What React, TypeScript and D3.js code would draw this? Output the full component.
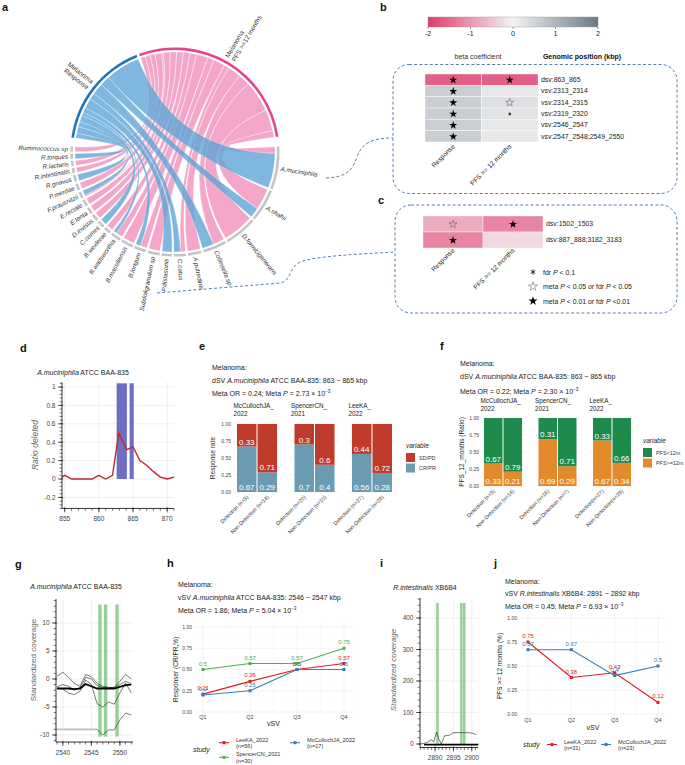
import React from 'react';
import * as d3 from 'd3';

const FONT = "'Liberation Sans', Arial, Helvetica, sans-serif";

/* ---------------- a: chord data ---------------- */
const chordSpecies = ['A.muciniphila', 'A.shahii', 'D.formicigenerans', 'Collinsella sp', 'A.putredinis', 'C.catus', 'P.distasonis', 'Subdoligranulum sp', 'B.longum', 'B.massiliensis', 'B.wadsworthia', 'B.wexlerae', 'C.comes', 'D.invisus', 'E.lenta', 'E.rectale', 'F.prausnitzii', 'P.merdae', 'R.gnavus', 'R.intestinalis', 'R.lactaris', 'R.torques', 'Ruminococcus sp'];
const chordResponse = [21, 6, 0, 7, 0, 4, 6, 0, 3, 0, 2, 0, 4, 0, 0, 0, 3, 0, 4, 0, 0, 3, 0];
const chordPFS = [4, 13, 19, 7, 8, 3, 0, 7, 4, 7, 4, 4, 0, 4, 4, 4, 1, 4, 0, 3, 3, 0, 3];
const chordGroupLines = [['Melanoma', 'Response'], ['Melanoma', 'PFS >=12 months']];

/* ---------------- b / c: heatmaps ---------------- */
const betaTicks = [-2, -1, 0, 1, 2];
const heatColumns = ['Response', 'PFS >= 12 months'];
const bRows = ['dsv:863_865', 'vsv:2313_2314', 'vsv:2314_2315', 'vsv:2319_2320', 'vsv:2546_2547', 'vsv:2547_2548;2549_2550'];
const bResponse = [-1.6, 0.6, 0.6, 0.6, 0.6, 0.6];
const bPFS = [-1.6, 0.2, 0.32, 0.25, 0.2, 0.2];
const bResponseSig = ['strong', 'strong', 'strong', 'strong', 'strong', 'strong'];
const bPFSSig = ['strong', '', 'open', 'fdr', '', ''];
const cRows = ['dsv:1502_1503', 'dsv:887_888;3182_3183'];
const cResponse = [-0.78, -1.2];
const cPFS = [-1.2, -0.28];
const cResponseSig = ['open', 'strong'];
const cPFSSig = ['strong', ''];
const sigKinds = ['fdr', 'open', 'strong'];
const sigLabels = [
  [['fdr ', 0], ['P', 1], [' < 0.1', 0]],
  [['meta ', 0], ['P', 1], [' < 0.05 or fdr ', 0], ['P', 1], [' < 0.05', 0]],
  [['meta ', 0], ['P', 1], [' < 0.01 or fdr ', 0], ['P', 1], [' <0.01', 0]],
];

/* ---------------- d ---------------- */
const dPos = [854.6, 855, 856, 857, 858, 859, 860, 861, 862, 862.9, 864.1, 865, 866, 867, 868, 869, 870, 871];
const dRatio = [0.02, 0.04, 0.0, 0.0, 0.0, 0.0, 0.04, 0.0, 0.04, 0.5, 0.32, 0.35, 0.2, 0.15, 0.08, 0.02, 0.0, 0.02];
const dBars = [[862.6, 864.1], [864.5, 865.1]];
const dBarTop = 1.04;

/* ---------------- e ---------------- */
const eStudyNames = ['McCullochJA_', 'SpencerCN_', 'LeeKA_'];
const eStudyYears = ['2022', '2021', '2022'];
const eXLabels = ['Detection (n=3)', 'Non-Detection (n=14)', 'Detection (n=20)', 'Non-Detection (n=10)', 'Detection (n=27)', 'Non-Detection (n=29)'];
const eCRPR = [0.67, 0.29, 0.7, 0.4, 0.56, 0.28];
const eSDPD = [0.33, 0.71, 0.3, 0.6, 0.44, 0.72];
const eLegend = ['SD/PD', 'CR/PR'];

/* ---------------- f ---------------- */
const fXLabels = ['Detection (n=3)', 'Non-Detection (n=14)', 'Detection (n=16)', 'Non-Detection (n=7)', 'Detection(n=27)', 'Non-Detection(n=29)'];
const fGE12 = [0.33, 0.21, 0.69, 0.29, 0.67, 0.34];
const fLT12 = [0.67, 0.79, 0.31, 0.71, 0.33, 0.66];
const fLegend = ['PFS<12m', 'PFS>=12m'];

/* ---------------- g ---------------- */
const gPos = [2539, 2540, 2541, 2542, 2543, 2544, 2545, 2546, 2547, 2548, 2549, 2550, 2551, 2552];
const gLine1 = [0.5, 1.2, 0.3, -0.8, -1.3, 0.8, 0.4, -0.8, -1.3, -1.5, -1.5, -0.4, 0.8, 0.0];
const gLine2 = [-1.4, -1.0, -1.3, -2.0, -1.6, 0.3, 0.0, -1.2, -1.5, -1.6, -1.5, -1.0, -0.4, -0.9];
const gLine3 = [-1.6, -1.8, -2.5, -2.8, -2.2, -0.2, -1.0, -4.4, -5.0, -4.1, -4.5, -2.5, -0.7, -2.5];
const gMean = [-1.7, -1.7, -1.7, -1.8, -1.7, -0.9, -1.3, -1.7, -1.7, -1.7, -1.7, -1.4, -1.1, -1.0];
const gLowPos = [2546, 2547, 2548, 2549, 2550, 2551, 2552];
const gLow = [-9.0, -10.0, -9.1, -9.1, -7.3, -6.1, -6.4];
const gFlatPos = [2538.8, 2546];
const gFlat = [-9, -9];
const gBars = [[2546.2, 2546.8], [2547.2, 2547.8], [2549.2, 2549.8]];
const gBarRange = [-10.3, 13.3];

/* ---------------- h ---------------- */
const qLabels = ['Q1', 'Q2', 'Q3', 'Q4'];
const hStudies = ['LeeKA_2022', 'SpencerCN_2021', 'McCullochJA_2022'];
const hN = ['(n=56)', '(n=30)', '(n=17)'];
const hValues = [[0.21, 0.36, 0.5, 0.57], [0.5, 0.57, 0.57, 0.75], [0.2, 0.25, 0.5, 0.5]];

/* ---------------- i ---------------- */
const iPos = [2886, 2887, 2888, 2889, 2889.6, 2890.4, 2891.1, 2891.7, 2892.6, 2894, 2895, 2896, 2897, 2898, 2899, 2900, 2901.2];
const iLine = [0, 2, 6, 14, 6, 38, 14, 0, 26, 28, 36, 36, 36, 36, 36, 35, 30];
const iMeanPos = [2887, 2901.8];
const iMean = [-2, -2];
const iBars = [[2890.3, 2891.0], [2896.8, 2897.5], [2897.6, 2898.3]];
const iBarRange = [-3, 448];

/* ---------------- j ---------------- */
const jStudies = ['LeeKA_2022', 'McCullochJA_2022'];
const jN = ['(n=31)', '(n=23)'];
const jValues = [[0.75, 0.38, 0.43, 0.12], [0.67, 0.67, 0.4, 0.5]];

/* ---------------- styles ---------------- */
const studyColor: Record<string, string> = { LeeKA_2022: '#E41A1C', SpencerCN_2021: '#4DAF4A', McCullochJA_2022: '#377EB8' };
const heatColor = d3.scaleLinear<string>().domain([-2, 0, 2]).range(['#E03A6C', '#F3F3F3', '#6A7888']);

const PanelLabel = ({ x, y, t }: any) => (
  <text x={x} y={y} fontSize={11} fontWeight="bold" fill="#111">{t}</text>
);

const Rich = ({ parts }: any) => (
  <>{parts.map((p: any, i: number) => <tspan key={i} fontStyle={p[1] ? 'italic' : 'normal'}>{p[0]}</tspan>)}</>
);

function MetaLine({ x, y, or, p, exp, size = 7 }: any) {
  return (
    <text x={x} y={y} fontSize={size} fill="#222">
      {`Meta OR = ${or}; Meta `}<tspan fontStyle="italic">P</tspan>{` = ${p} × 10`}
      <tspan dy={-2.8} fontSize={size * 0.68}>{exp}</tspan>
    </text>
  );
}

function Sym({ kind, x, y, size = 20 }: any) {
  const star = d3.symbol().type(d3.symbolStar).size(size)() as string;
  if (kind === 'strong') return <path d={star} transform={`translate(${x},${y})`} fill="#000" />;
  if (kind === 'open') return <path d={star} transform={`translate(${x},${y})`} fill="none" stroke="#555" strokeWidth={0.5} />;
  if (kind === 'fdr') {
    const t = (d3 as any).symbolAsterisk || d3.symbolCross;
    const ast = d3.symbol().type(t).size(size)() as string;
    return <path d={ast} transform={`translate(${x},${y})`} fill="none" stroke="#000" strokeWidth={0.7} />;
  }
  return null;
}

/* ---------------- Panel a ---------------- */
function PanelA() {
  const cx = 175, cy = 152, R = 100;
  const rad = Math.PI / 180;
  const sumR = d3.sum(chordResponse), sumP = d3.sum(chordPFS), total = sumR + sumP;
  const srcStart = 278, srcEnd = 441.5, srcGap = 1.5;
  const k = (srcEnd - srcStart - srcGap) / total;
  const tgtStart = 87, tgtEnd = 273;
  const n = chordSpecies.length;
  const tgtGap = (tgtEnd - tgtStart - total * k) / (n - 1);
  let a = tgtStart;
  const sectors = chordSpecies.map((name, i) => {
    const s = { name, start: a, mid: a + chordPFS[i] * k, end: a + (chordPFS[i] + chordResponse[i]) * k };
    a = s.end + tgtGap;
    return s;
  });
  const respArc = [srcStart, srcStart + sumR * k];
  const pfsArc = [respArc[1] + srcGap, respArc[1] + srcGap + sumP * k];
  const ribbonsP: any[] = [], ribbonsR: any[] = [];
  let ra = respArc[0], pa = pfsArc[0];
  for (let i = n - 1; i >= 0; i--) {
    if (chordPFS[i] > 0) {
      const w = chordPFS[i] * k;
      ribbonsP.push({ source: { startAngle: pa * rad, endAngle: (pa + w) * rad, radius: R }, target: { startAngle: sectors[i].start * rad, endAngle: sectors[i].mid * rad, radius: R } });
      pa += w;
    }
    if (chordResponse[i] > 0) {
      const w = chordResponse[i] * k;
      ribbonsR.push({ source: { startAngle: ra * rad, endAngle: (ra + w) * rad, radius: R }, target: { startAngle: sectors[i].mid * rad, endAngle: sectors[i].end * rad, radius: R } });
      ra += w;
    }
  }
  const ribbon: any = d3.ribbon();
  const arc: any = d3.arc();
  const track = (s: number, e: number) => arc({ innerRadius: 102, outerRadius: 104.6, startAngle: s * rad, endAngle: e * rad });
  const labelPos = (ang: number, r: number) => [r * Math.sin(ang * rad), -r * Math.cos(ang * rad)];
  const groupArcs = [respArc, pfsArc];
  return (
    <g>
      <PanelLabel x={2} y={11} t="a" />
      <g transform={`translate(${cx},${cy})`}>
        {ribbonsP.map((d, i) => <path key={'p' + i} d={ribbon(d)} fill="#F4A6C8" stroke="#fff" strokeWidth={0.4} />)}
        {ribbonsR.map((d, i) => <path key={'r' + i} d={ribbon(d)} fill="#5FA5D6" fillOpacity={0.8} stroke="#fff" strokeOpacity={0.6} strokeWidth={0.4} />)}
        <path d={track(respArc[0], respArc[1])} fill="#1F77B8" />
        <path d={track(pfsArc[0], pfsArc[1])} fill="#E8428C" />
        {sectors.map((s, i) => <path key={'t' + i} d={track(s.start, s.end)} fill="#C4C4C4" />)}
        {sectors.map((s, i) => {
          const m = (s.start + s.end) / 2;
          const [x, y] = labelPos(m, 107);
          const rot = m < 180 ? m - 90 : m + 90;
          return (
            <text key={'l' + i} transform={`translate(${x},${y}) rotate(${rot})`} textAnchor={m < 180 ? 'start' : 'end'} dy="0.35em" fontSize={6.3} fontStyle="italic" fill="#333">{s.name}</text>
          );
        })}
        {groupArcs.map((g, gi) => {
          const m = ((g[0] + g[1]) / 2) % 360;
          const [x, y] = labelPos(m, 108);
          const rot = m < 180 ? m - 90 : m + 90;
          return (
            <text key={'g' + gi} transform={`translate(${x},${y}) rotate(${rot})`} textAnchor={m < 180 ? 'start' : 'end'} fontSize={6.5} fill="#333">
              <tspan x={0} dy="-0.25em">{chordGroupLines[gi][0]}</tspan>
              <tspan x={0} dy="1.15em">{chordGroupLines[gi][1]}</tspan>
            </text>
          );
        })}
      </g>
      <path d="M326,178 C348,177 352,170 357,157 C362,143 372,138 393,138" fill="none" stroke="#3E72A8" strokeWidth={0.9} strokeDasharray="3,2.2" />
      <path d="M157,293 L280,283 C292,281 288,268 300,262 C315,256 360,254 395,252" fill="none" stroke="#3E72A8" strokeWidth={0.9} strokeDasharray="3,2.2" />
    </g>
  );
}

/* ---------------- Heatmap helper ---------------- */
function Heat({ rows, cols, vals, sigs, x0, x1, y0, y1, labelX, colLabelY }: any) {
  const xb = d3.scaleBand<string>().domain(cols).range([x0, x1]);
  const yb = d3.scaleBand<string>().domain(rows).range([y0, y1]);
  return (
    <g>
      {cols.map((c: string, ci: number) => rows.map((r: string, ri: number) => (
        <g key={c + r}>
          <rect x={xb(c)} y={yb(r)} width={xb.bandwidth()} height={yb.bandwidth()} fill={heatColor(vals[ci][ri])} stroke="#fff" strokeWidth={0.4} />
          <Sym kind={sigs[ci][ri]} x={(xb(c) as number) + xb.bandwidth() / 2} y={(yb(r) as number) + yb.bandwidth() / 2 + 0.3} size={sigs[ci][ri] === 'fdr' ? 6 : 20} />
        </g>
      )))}
      {rows.map((r: string) => (
        <text key={r} x={labelX} y={(yb(r) as number) + yb.bandwidth() / 2 + 2.3} fontSize={6.9} fill="#222">{r}</text>
      ))}
      {cols.map((c: string) => (
        <text key={c} transform={`translate(${(xb(c) as number) + xb.bandwidth() / 2 + 2},${colLabelY}) rotate(-45)`} textAnchor="end" fontSize={6.6} fill="#222">{c}</text>
      ))}
    </g>
  );
}

function PanelB() {
  const cb = d3.scaleLinear().domain([-2, 2]).range([428, 598]);
  return (
    <g>
      <PanelLabel x={380} y={11} t="b" />
      <defs>
        <linearGradient id="betaGrad" x1="0" x2="1" y1="0" y2="0">
          {[-2, -1, 0, 1, 2].map((v) => <stop key={v} offset={(v + 2) / 4} stopColor={heatColor(v)} />)}
        </linearGradient>
      </defs>
      <rect x={cb(-2)} y={17} width={cb(2) - cb(-2)} height={10} fill="url(#betaGrad)" stroke="#999" strokeWidth={0.4} />
      {betaTicks.map((t) => (
        <g key={t}>
          <line x1={cb(t)} x2={cb(t)} y1={27} y2={29} stroke="#333" strokeWidth={0.5} />
          <text x={cb(t)} y={36} textAnchor="middle" fontSize={7} fill="#222">{t}</text>
        </g>
      ))}
      <text x={478} y={59} textAnchor="middle" fontSize={7} fill="#333">beta coefficient</text>
      <text x={582} y={59} textAnchor="middle" fontSize={7} fontWeight="bold" fill="#111">Genomic position (kbp)</text>
      <rect x={393} y={64.5} width={284} height={129} rx={16} ry={16} fill="none" stroke="#3E72A8" strokeWidth={0.9} strokeDasharray="3,2.2" />
      <Heat rows={bRows} cols={heatColumns} vals={[bResponse, bPFS]} sigs={[bResponseSig, bPFSSig]} x0={425} x1={538} y0={74} y1={142} labelX={541} colLabelY={147} />
    </g>
  );
}

function PanelC() {
  return (
    <g>
      <PanelLabel x={378} y={204} t="c" />
      <rect x={395} y={205} width={282} height={108} rx={16} ry={16} fill="none" stroke="#3E72A8" strokeWidth={0.9} strokeDasharray="3,2.2" />
      <Heat rows={cRows} cols={heatColumns} vals={[cResponse, cPFS]} sigs={[cResponseSig, cPFSSig]} x0={423} x1={543} y0={216} y1={248} labelX={546} colLabelY={251} />
      {sigKinds.map((kd, i) => (
        <g key={kd}>
          <Sym kind={kd} x={533} y={272 + i * 14.5} size={kd === 'fdr' ? 22 : 26} />
          <text x={543} y={274.5 + i * 14.5} fontSize={6.9} fill="#222"><Rich parts={sigLabels[i]} /></text>
        </g>
      ))}
    </g>
  );
}

/* ---------------- Bokeh-like frame ---------------- */
function BokehFrame({ x, y, left, right, top, bottom, xMajor, xMinor, yMajor, yMinor, yFmt, children }: any) {
  const fmt = yFmt || ((v: number) => String(v));
  return (
    <g>
      {yMajor.map((v: number) => <line key={'gy' + v} x1={left} x2={right} y1={y(v)} y2={y(v)} stroke="#E4E4E4" strokeWidth={0.6} />)}
      {xMajor.map((v: number) => <line key={'gx' + v} x1={x(v)} x2={x(v)} y1={top} y2={bottom} stroke="#E4E4E4" strokeWidth={0.6} />)}
      {children}
      <line x1={left} x2={left} y1={top} y2={bottom} stroke="#000" strokeWidth={0.8} />
      <line x1={left} x2={right} y1={bottom} y2={bottom} stroke="#000" strokeWidth={0.8} />
      {yMinor.map((v: number, i: number) => <line key={'ym' + i} x1={left - 2.5} x2={left} y1={y(v)} y2={y(v)} stroke="#000" strokeWidth={0.5} />)}
      {yMajor.map((v: number) => <line key={'yM' + v} x1={left - 4} x2={left + 1.2} y1={y(v)} y2={y(v)} stroke="#000" strokeWidth={0.6} />)}
      {yMajor.map((v: number) => <text key={'yl' + v} x={left - 6.5} y={y(v) + 2.3} textAnchor="end" fontSize={6.5} fill="#444">{fmt(v)}</text>)}
      {xMinor.map((v: number, i: number) => <line key={'xm' + i} x1={x(v)} x2={x(v)} y1={bottom} y2={bottom + 2.5} stroke="#000" strokeWidth={0.5} />)}
      {xMajor.map((v: number) => <line key={'xM' + v} x1={x(v)} x2={x(v)} y1={bottom - 1.2} y2={bottom + 4} stroke="#000" strokeWidth={0.6} />)}
      {xMajor.map((v: number) => <text key={'xl' + v} x={x(v)} y={bottom + 12.5} textAnchor="middle" fontSize={6.5} fill="#444">{v}</text>)}
    </g>
  );
}

function PanelD() {
  const x = d3.scaleLinear().domain([854.6, 871]).range([62, 174]);
  const y = d3.scaleLinear().domain([0, 1]).range([479, 387]);
  const line = d3.line<number>().x((_, i) => x(dPos[i])).y((d) => y(d));
  const yMinor = d3.range(-8, 27).map((i) => i * 0.04);
  const xMinor = d3.range(855, 872);
  return (
    <g>
      <PanelLabel x={20} y={352} t="d" />
      <text x={83} y={374.5} textAnchor="middle" fontSize={7} fill="#222"><tspan fontStyle="italic">A.muciniphila</tspan> ATCC BAA-835</text>
      <BokehFrame x={x} y={y} left={62} right={174} top={y(1.05)} bottom={y(-0.32)} xMajor={[855, 860, 865, 870]} xMinor={xMinor} yMajor={[-0.2, 0, 0.2, 0.4, 0.6, 0.8, 1]} yMinor={yMinor}
        yFmt={(v: number) => String(+v.toFixed(1))}>
        {dBars.map((b, i) => <rect key={i} x={x(b[0])} y={y(dBarTop)} width={x(b[1]) - x(b[0])} height={y(0) - y(dBarTop)} fill="#6E6EC2" />)}
        <path d={line(dRatio) as string} fill="none" stroke="#C1272D" strokeWidth={1.4} />
      </BokehFrame>
      <text transform="translate(38,445) rotate(-90)" textAnchor="middle" fontSize={8.5} fontStyle="italic" fill="#666">Ratio deleted</text>
    </g>
  );
}

/* ---------------- stacked bar panels ---------------- */
function StackPanel({ x0, x1, yTop, yBot, lower, upper, lowerColor, upperColor, xLabels, tickX, yTitle, yTitleX, facetY, legend }: any) {
  const y = d3.scaleLinear().domain([0, 1]).range([yBot, yTop]);
  const step = (x1 - x0) / (3 - 0.303);
  const outer = d3.scaleBand<number>().domain([0, 1, 2]).range([x0, x1]).paddingInner(0.303);
  const inner = d3.scaleBand<number>().domain([0, 1]).range([0, outer.bandwidth()]).paddingInner(0.05);
  const grid = [0, 0.25, 0.5, 0.75, 1];
  const minor = [0.125, 0.375, 0.625, 0.875];
  const fmt = d3.format('.2f');
  return (
    <g>
      {[0, 1, 2].map((f) => {
        const fx = outer(f) as number;
        const gl = fx - step * 0.08, gr = fx + outer.bandwidth() + step * 0.08;
        return (
          <g key={f}>
            {minor.map((v) => <line key={'m' + v} x1={gl} x2={gr} y1={y(v)} y2={y(v)} stroke="#F3F3F3" strokeWidth={0.4} />)}
            {grid.map((v) => <line key={'g' + v} x1={gl} x2={gr} y1={y(v)} y2={y(v)} stroke="#EBEBEB" strokeWidth={0.6} />)}
            <text x={fx - 3.5} y={facetY} fontSize={6.3} fill="#222">{eStudyNames[f]}</text>
            <text x={fx - 3.5} y={facetY + 7.5} fontSize={6.3} fill="#222">{eStudyYears[f]}</text>
          </g>
        );
      })}
      {lower.map((lv: number, i: number) => {
        const f = Math.floor(i / 2), b = i % 2;
        const bx = (outer(f) as number) + (inner(b) as number);
        const bw = inner.bandwidth();
        const cxm = bx + bw / 2;
        return (
          <g key={i}>
            <rect x={bx} y={y(lv)} width={bw} height={y(0) - y(lv)} fill={lowerColor} />
            <rect x={bx} y={y(lv + upper[i])} width={bw} height={y(lv) - y(lv + upper[i])} fill={upperColor} />
            <text x={cxm} y={y(lv) - 1.8} textAnchor="middle" fontSize={8} fill="#fff">{String(upper[i])}</text>
            <text x={cxm} y={y(0) - 1.8} textAnchor="middle" fontSize={8} fill="#fff">{String(lv)}</text>
            <text transform={`translate(${cxm + 2},${yBot + 5.5}) rotate(-45)`} textAnchor="end" fontSize={5.4} fill="#333">{xLabels[i]}</text>
          </g>
        );
      })}
      {grid.map((v) => <text key={'t' + v} x={tickX} y={y(v) + 1.8} textAnchor="end" fontSize={5} fill="#444">{fmt(v)}</text>)}
      <text transform={`translate(${yTitleX},${(yTop + yBot) / 2}) rotate(-90)`} textAnchor="middle" fontSize={6.5} fill="#222">{yTitle}</text>
      <text x={legend.x} y={legend.y} fontSize={6.5} fontStyle="italic" fill="#222">variable</text>
      {legend.labels.map((l: string, i: number) => (
        <g key={l}>
          <rect x={legend.x} y={legend.y + 5 + i * 10.5} width={9} height={9} fill={legend.colors[i]} />
          <text x={legend.x + 13} y={legend.y + 11.8 + i * 10.5} fontSize={5.4} fill="#333">{l}</text>
        </g>
      ))}
    </g>
  );
}

function PanelE() {
  return (
    <g>
      <PanelLabel x={199} y={350} t="e" />
      <text x={212} y={369.5} fontSize={7} fill="#222">Melanoma:</text>
      <text x={212} y={382.5} fontSize={7} fill="#222">dSV <tspan fontStyle="italic">A.muciniphila</tspan> ATCC BAA-835: 863 ~ 865 kbp</text>
      <MetaLine x={212} y={395.5} or="0.24" p="2.73" exp="−3" />
      <StackPanel x0={237} x1={392} yTop={424} yBot={492} lower={eCRPR} upper={eSDPD} lowerColor="#6B9BB1" upperColor="#BF3B2C"
        xLabels={eXLabels} tickX={231} yTitle="Response rate" yTitleX={215} facetY={408}
        legend={{ x: 406, y: 448, labels: eLegend, colors: ['#BF3B2C', '#6B9BB1'] }} />
    </g>
  );
}

function PanelF() {
  return (
    <g>
      <PanelLabel x={440} y={350} t="f" />
      <text x={460} y={366} fontSize={7} fill="#222">Melanoma:</text>
      <text x={460} y={379} fontSize={7} fill="#222">dSV <tspan fontStyle="italic">A.muciniphila</tspan> ATCC BAA-835: 863 ~ 865 kbp</text>
      <MetaLine x={460} y={393.5} or="0.22" p="2.30" exp="−3" />
      <StackPanel x0={484} x1={631} yTop={418} yBot={486} lower={fGE12} upper={fLT12} lowerColor="#E38B2C" upperColor="#1E8A4C"
        xLabels={fXLabels} tickX={479} yTitle="PFS_12_months (Ratio)" yTitleX={464} facetY={403}
        legend={{ x: 643, y: 443, labels: fLegend, colors: ['#1E8A4C', '#E38B2C'] }} />
    </g>
  );
}

function PanelG() {
  const x = d3.scaleLinear().domain([2538.8, 2552.3]).range([56, 133]);
  const y = d3.scaleLinear().domain([0, 10]).range([679, 623]);
  const mk = (pos: number[]) => d3.line<number>().x((_, i) => x(pos[i])).y((d) => y(d));
  const main = mk(gPos);
  return (
    <g>
      <PanelLabel x={15} y={568} t="g" />
      <text x={76} y={589} textAnchor="middle" fontSize={7} fill="#222"><tspan fontStyle="italic">A.muciniphila</tspan> ATCC BAA-835</text>
      <BokehFrame x={x} y={y} left={56} right={133} top={599} bottom={742} xMajor={[2540, 2545, 2550]} xMinor={d3.range(2539, 2553)} yMajor={[-10, -5, 0, 5, 10]} yMinor={d3.range(-11, 15)}>
        {gBars.map((b, i) => <rect key={i} x={x(b[0])} y={y(gBarRange[1])} width={x(b[1]) - x(b[0])} height={y(gBarRange[0]) - y(gBarRange[1])} fill="#8CCB8C" fillOpacity={0.9} />)}
        <path d={mk(gFlatPos)(gFlat) as string} fill="none" stroke="#BDBDBD" strokeWidth={1.6} />
        {[gLine1, gLine2, gLine3].map((l, i) => <path key={i} d={main(l) as string} fill="none" stroke="#222" strokeWidth={0.6} />)}
        <path d={mk(gLowPos)(gLow) as string} fill="none" stroke="#222" strokeWidth={0.6} />
        <path d={main(gMean) as string} fill="none" stroke="#000" strokeWidth={1.8} />
      </BokehFrame>
      <text transform="translate(36,660) rotate(-90)" textAnchor="middle" fontSize={8} fill="#666">Standardized coverage</text>
    </g>
  );
}

function PanelI() {
  const x = d3.scaleLinear().domain([2885.9, 2901.7]).range([420, 478]);
  const y = d3.scaleLinear().domain([0, 400]).range([744, 618]);
  const mk = (pos: number[]) => d3.line<number>().x((_, i) => x(pos[i])).y((d) => y(d));
  return (
    <g>
      <PanelLabel x={380} y={567} t="i" />
      <text x={425} y={589.5} textAnchor="middle" fontSize={7} fill="#222"><tspan fontStyle="italic">R.intestinalis</tspan> XB6B4</text>
      <BokehFrame x={x} y={y} left={420} right={478} top={598} bottom={747.5} xMajor={[2890, 2895, 2900]} xMinor={d3.range(2886, 2902)} yMajor={[0, 100, 200, 300, 400]} yMinor={d3.range(0, 461, 20)}>
        {iBars.map((b, i) => <rect key={i} x={x(b[0])} y={y(iBarRange[1])} width={x(b[1]) - x(b[0])} height={y(iBarRange[0]) - y(iBarRange[1])} fill="#8CCB8C" fillOpacity={0.9} />)}
        <path d={mk(iPos)(iLine) as string} fill="none" stroke="#222" strokeWidth={0.6} />
        <path d={mk(iMeanPos)(iMean) as string} fill="none" stroke="#000" strokeWidth={1.8} />
      </BokehFrame>
      <text transform="translate(396,670) rotate(-90)" textAnchor="middle" fontSize={8} fontStyle="italic" fill="#666">Standardized coverage</text>
    </g>
  );
}

/* ---------------- line panels ---------------- */
function LinePanel({ q0, q1, left, right, yTop, yBot, studies, values, tickX, qY, vsvY, yTitle, yTitleX, legendItems, studyPos }: any) {
  const x = d3.scalePoint<string>().domain(qLabels).range([q0, q1]);
  const y = d3.scaleLinear().domain([0, 1]).range([yBot, yTop]);
  const top = y(1.04), bot = y(-0.04);
  const grid = [0, 0.25, 0.5, 0.75, 1];
  const minor = [0.125, 0.375, 0.625, 0.875];
  const stepQ = x.step();
  const line = d3.line<number>().x((_, i) => x(qLabels[i]) as number).y((d) => y(d));
  const fmt = d3.format('.2f');
  return (
    <g>
      {minor.map((v) => <line key={'m' + v} x1={left} x2={right} y1={y(v)} y2={y(v)} stroke="#F3F3F3" strokeWidth={0.4} />)}
      {qLabels.slice(0, 3).map((q) => <line key={'mv' + q} x1={(x(q) as number) + stepQ / 2} x2={(x(q) as number) + stepQ / 2} y1={top} y2={bot} stroke="#F3F3F3" strokeWidth={0.4} />)}
      {grid.map((v) => <line key={'g' + v} x1={left} x2={right} y1={y(v)} y2={y(v)} stroke="#EBEBEB" strokeWidth={0.6} />)}
      {qLabels.map((q) => <line key={'v' + q} x1={x(q)} x2={x(q)} y1={top} y2={bot} stroke="#EBEBEB" strokeWidth={0.6} />)}
      {studies.map((s: string, si: number) => (
        <g key={s}>
          <path d={line(values[si]) as string} fill="none" stroke={studyColor[s]} strokeWidth={1.1} />
          {values[si].map((v: number, i: number) => (
            <g key={i}>
              <rect x={(x(qLabels[i]) as number) - 1.5} y={y(v) - 1.5} width={3} height={3} fill={studyColor[s]} />
              <text x={x(qLabels[i])} y={y(v) - 4} textAnchor="middle" fontSize={6} fill={studyColor[s]}>{String(v)}</text>
            </g>
          ))}
        </g>
      ))}
      {grid.map((v) => <text key={'t' + v} x={tickX} y={y(v) + 1.8} textAnchor="end" fontSize={5} fill="#444">{fmt(v)}</text>)}
      {qLabels.map((q) => <text key={'q' + q} x={x(q)} y={qY} textAnchor="middle" fontSize={5.5} fill="#444">{q}</text>)}
      <text x={(q0 + q1) / 2} y={vsvY} textAnchor="middle" fontSize={7} fill="#222">vSV</text>
      <text transform={`translate(${yTitleX},${(yTop + yBot) / 2}) rotate(-90)`} textAnchor="middle" fontSize={6.5} fill="#222">{yTitle}</text>
      <text x={studyPos[0]} y={studyPos[1]} fontSize={7} fontStyle="italic" fill="#222">study</text>
      {legendItems.map((it: any, i: number) => (
        <g key={i}>
          <line x1={it.x} x2={it.x + 10} y1={it.y} y2={it.y} stroke={studyColor[studies[i]]} strokeWidth={1.1} />
          <rect x={it.x + 3.5} y={it.y - 1.5} width={3} height={3} fill={studyColor[studies[i]]} />
          <text x={it.x + 17} y={it.y - 1} fontSize={5.6} fill="#333">{studies[i]}</text>
          <text x={it.x + 17} y={it.y + 5.5} fontSize={5.6} fill="#333">{it.n}</text>
        </g>
      ))}
    </g>
  );
}

function PanelH() {
  return (
    <g>
      <PanelLabel x={167} y={567} t="h" />
      <text x={178} y={586.5} fontSize={7} fill="#222">Melanoma:</text>
      <text x={178} y={600} fontSize={7} fill="#222">vSV <tspan fontStyle="italic">A.muciniphila</tspan> ATCC BAA-835: 2546 ~ 2547 kbp</text>
      <MetaLine x={178} y={613} or="1.86" p="5.04" exp="−3" />
      <LinePanel q0={203} q1={344} left={196} right={353} yTop={627} yBot={712} studies={hStudies} values={hValues} tickX={192}
        qY={719} vsvY={726} yTitle="Responser (CR/PR,%)" yTitleX={178} studyPos={[193, 752]}
        legendItems={[{ x: 219, y: 742.7, n: hN[0] }, { x: 219, y: 757.3, n: hN[1] }, { x: 290, y: 742.7, n: hN[2] }]} />
    </g>
  );
}

function PanelJ() {
  return (
    <g>
      <PanelLabel x={494} y={567} t="j" />
      <text x={505} y={583.5} fontSize={7} fill="#222">Melanoma:</text>
      <text x={505} y={596} fontSize={7} fill="#222">vSV <tspan fontStyle="italic">R.intestinalis</tspan> XB6B4: 2891 ~ 2892 kbp</text>
      <MetaLine x={505} y={609} or="0.45" p="6.93" exp="−3" />
      <LinePanel q0={528} q1={658} left={521} right={668} yTop={618} yBot={714} studies={jStudies} values={jValues} tickX={517}
        qY={722} vsvY={730} yTitle="PFS >= 12 months (%)" yTitleX={502} studyPos={[523, 747]}
        legendItems={[{ x: 547, y: 744.5, n: jN[0] }, { x: 601, y: 744.5, n: jN[1] }]} />
    </g>
  );
}

export default function App() {
  return (
    <svg width={685} height={765} viewBox="0 0 685 765" style={{ position: 'absolute', left: 0, top: 0, background: '#fff' }} fontFamily={FONT}>
      <rect width={685} height={765} fill="#fff" />
      <PanelA />
      <PanelB />
      <PanelC />
      <PanelD />
      <PanelE />
      <PanelF />
      <PanelG />
      <PanelH />
      <PanelI />
      <PanelJ />
    </svg>
  );
}
